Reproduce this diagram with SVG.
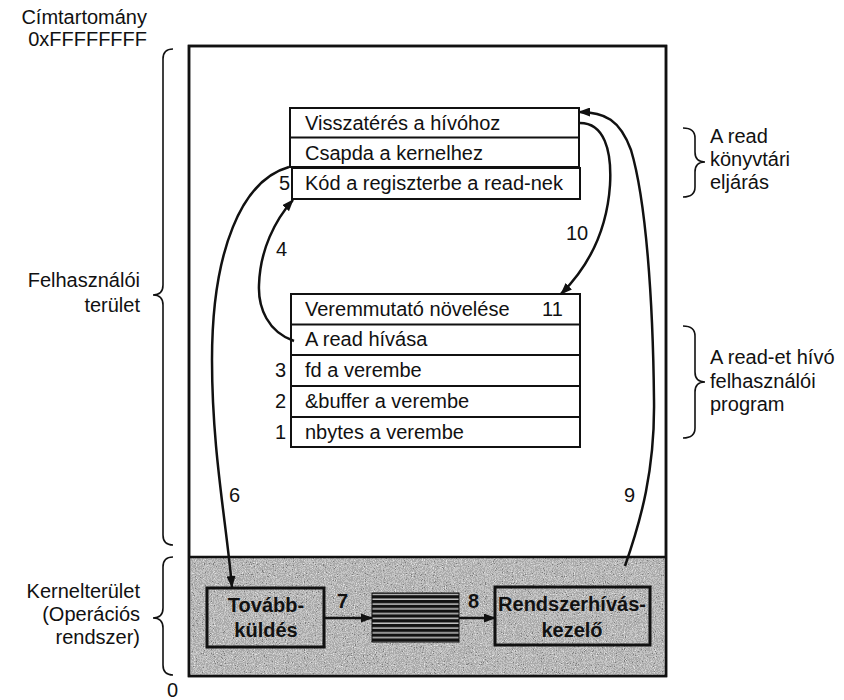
<svg xmlns="http://www.w3.org/2000/svg" width="844" height="700" viewBox="0 0 844 700">
<style>
text{font-family:"Liberation Sans",Arial,sans-serif;font-size:20px;fill:#111}
.b{font-weight:bold}
.box{fill:#fff;stroke:#111;stroke-width:2}
.kbox{fill:none;stroke:#111;stroke-width:3}
.con{fill:none;stroke:#111;stroke-width:2.5}
.brace{fill:none;stroke:#111;stroke-width:1.6}
</style>
<defs>
<marker id="ah" viewBox="0 0 12 9" refX="11" refY="4.5" markerWidth="12" markerHeight="9" markerUnits="userSpaceOnUse" orient="auto">
<path d="M0,0 L12,4.5 L0,9 z" fill="#111"/>
</marker>
<filter id="grain" x="0" y="0" width="100%" height="100%" filterUnits="objectBoundingBox">
<feTurbulence type="fractalNoise" baseFrequency="0.9" numOctaves="2" seed="7" result="n"/>
<feColorMatrix in="n" type="saturate" values="0" result="g"/>
<feComponentTransfer in="g" result="d">
<feFuncR type="discrete" tableValues="0.05 0.2 0.4 0.55 0.75 0.95"/>
<feFuncG type="discrete" tableValues="0.05 0.2 0.4 0.55 0.75 0.95"/>
<feFuncB type="discrete" tableValues="0.05 0.2 0.4 0.55 0.75 0.95"/>
<feFuncA type="linear" slope="0" intercept="1"/>
</feComponentTransfer>
<feComposite in="d" in2="SourceGraphic" operator="in"/>
</filter>
<pattern id="stripes" width="10" height="4.8" patternUnits="userSpaceOnUse">
<rect width="10" height="4.8" fill="#111"/>
<rect y="3.4" width="10" height="1.2" fill="#eee"/>
</pattern>
</defs>

<!-- address space frame -->
<g id="frame">
<rect x="189" y="46" width="477" height="630" fill="#fff" stroke="#111" stroke-width="2.5"/>
<rect x="190.5" y="557" width="474" height="117.5" fill="#999" filter="url(#grain)"/>
<line x1="189" y1="557" x2="666" y2="557" stroke="#111" stroke-width="2.5"/>
<rect x="189" y="46" width="477" height="630" fill="none" stroke="#111" stroke-width="2.5"/>
</g>

<!-- side labels -->
<g id="labels-left">
<text x="147" y="24" text-anchor="end">Címtartomány</text>
<text x="147" y="46" text-anchor="end">0xFFFFFFFF</text>
<text x="140" y="287" text-anchor="end">Felhasználói</text>
<text x="140" y="312" text-anchor="end">terület</text>
<text x="140" y="598" text-anchor="end">Kernelterület</text>
<text x="140" y="621" text-anchor="end">(Operációs</text>
<text x="140" y="644" text-anchor="end">rendszer)</text>
<text x="167" y="697">0</text>
<path class="brace" d="M173,49 Q163,49 163,59 L163,285 Q163,295 153,295 Q163,295 163,305 L163,535 Q163,545 173,545"/>
<path class="brace" d="M173,557 Q163,557 163,567 L163,608 Q163,618 153,618 Q163,618 163,628 L163,665 Q163,675 173,675"/>
</g>

<g id="labels-right">
<path class="brace" d="M683,128 Q695,128 695,138 L695,152 Q695,162 705,162 Q695,162 695,172 L695,187 Q695,197 683,197"/>
<text x="710" y="143">A read</text>
<text x="710" y="166">könyvtári</text>
<text x="710" y="189">eljárás</text>
<path class="brace" d="M683,326 Q695,326 695,336 L695,372 Q695,382 705,382 Q695,382 695,392 L695,428 Q695,438 683,438"/>
<text x="710" y="364">A read-et hívó</text>
<text x="710" y="388">felhasználói</text>
<text x="710" y="411">program</text>
</g>

<!-- library procedure -->
<g id="library">
<rect class="box" x="290" y="108" width="289" height="59"/>
<line x1="290" y1="137.5" x2="579" y2="137.5" stroke="#111" stroke-width="2"/>
<rect class="box" x="292" y="168" width="288" height="31"/>
<text x="305" y="130">Visszatérés a hívóhoz</text>
<text x="305" y="160">Csapda a kernelhez</text>
<text x="305" y="190">Kód a regiszterbe a read-nek</text>
<text x="279" y="190">5</text>
</g>

<!-- user program -->
<g id="program">
<rect class="box" x="291" y="294" width="289" height="153"/>
<line x1="291" y1="324.5" x2="580" y2="324.5" stroke="#111" stroke-width="2"/>
<line x1="291" y1="355" x2="580" y2="355" stroke="#111" stroke-width="2"/>
<line x1="291" y1="386" x2="580" y2="386" stroke="#111" stroke-width="2"/>
<line x1="291" y1="417" x2="580" y2="417" stroke="#111" stroke-width="2"/>
<text x="305" y="316">Veremmutató növelése</text>
<text x="542" y="316">11</text>
<text x="305" y="346">A read hívása</text>
<text x="305" y="377">fd a verembe</text>
<text x="305" y="408">&amp;buffer a verembe</text>
<text x="305" y="439">nbytes a verembe</text>
<text x="275" y="377">3</text>
<text x="275" y="408">2</text>
<text x="275" y="439">1</text>
</g>

<!-- kernel -->
<g id="dispatch">
<rect class="kbox" x="207" y="588" width="117" height="59"/>
<text class="b" x="266" y="612" text-anchor="middle">Tovább-</text>
<text class="b" x="266" y="637" text-anchor="middle">küldés</text>
</g>
<g id="table">
<rect x="372" y="593" width="87" height="49" fill="url(#stripes)" stroke="#111" stroke-width="1"/>
</g>
<g id="handler">
<rect class="kbox" x="495" y="587" width="155" height="58"/>
<text class="b" x="572" y="611" text-anchor="middle">Rendszerhívás-</text>
<text class="b" x="572" y="637" text-anchor="middle">kezelő</text>
</g>

<!-- connectors -->
<g id="connectors">
<path class="con" d="M289,167 C242,180 212,250 212,360 C212,450 226,520 232,587" marker-end="url(#ah)"/>
<text x="229" y="502">6</text>
<path class="con" d="M294,341 C268,332 258,308 259,285 C260,250 275,220 293,200" marker-end="url(#ah)"/>
<text x="276" y="256">4</text>
<path class="con" d="M580,123 C604,123 612,150 610,185 C607,230 590,265 561,294" marker-end="url(#ah)"/>
<text x="566" y="240">10</text>
<path class="con" d="M625,566 C641,520 655,470 654,400 C653,300 646,200 631,150 C620,120 605,112 579,112" marker-end="url(#ah)"/>
<text x="624" y="502">9</text>
<line class="con" x1="324" y1="618" x2="372" y2="618" marker-end="url(#ah)"/>
<text class="b" x="337" y="608">7</text>
<line class="con" x1="459" y1="618" x2="495" y2="618" marker-end="url(#ah)"/>
<text class="b" x="468" y="608">8</text>
</g>
</svg>
